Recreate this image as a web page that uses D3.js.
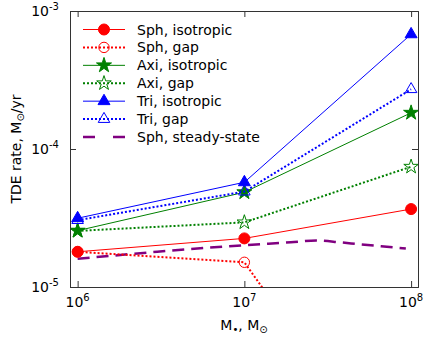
<!DOCTYPE html>
<html>
<head>
<meta charset="utf-8">
<script src="https://d3js.org/d3.v7.min.js"></script>
<style>
    body { margin: 0; background: #fff; }
    text { font-family: "DejaVu Sans", sans-serif; fill: #000; }
</style>
</head>
<body>
<script>
    // black hole masses (x) and TDE rates (y)
    var masses = [1e6, 1e7, 1e8];
    var sphIso = [1.80e-5, 2.25e-5, 3.67e-5];
    var sphGap = [1.80e-5, 1.51e-5, 3.0e-7];
    var axiIso = [2.56e-5, 4.86e-5, 1.83e-4];
    var axiGap = [2.55e-5, 2.94e-5, 7.44e-5];
    var triIso = [3.15e-5, 5.74e-5, 6.78e-4];
    var triGap = [3.05e-5, 4.91e-5, 2.71e-4];

    var steadyMass = [1e6, 3e6, 1e7, 1.9e7, 2.7e7, 3.7e7, 4.9e7, 6.4e7, 9.3e7];
    var steadyRate = [1.60e-5, 1.80e-5, 2.01e-5, 2.11e-5, 2.17e-5, 2.11e-5, 2.04e-5, 1.98e-5, 1.90e-5];

    var xMajor = [1e6, 1e7, 1e8];
    var xMajorLabels = ["6", "7", "8"];
    var yMajor = [1e-5, 1e-4, 1e-3];
    var yMajorLabels = ["-5", "-4", "-3"];

    var legendLabels = ["Sph, isotropic", "Sph, gap", "Axi, isotropic", "Axi, gap",
                        "Tri, isotropic", "Tri, gap", "Sph, steady-state"];

    var width = 436, height = 346;
    var plotL = 70, plotR = 418, plotT = 11, plotB = 287;

    var svg = d3.select("body").append("svg")
        .attr("width", width)
        .attr("height", height);

    var x = d3.scaleLog().domain([9e5, 1.1e8]).range([plotL, plotR]);
    var y = d3.scaleLog().domain([1e-5, 1e-3]).range([plotB, plotT]);

    var series = [
        {vals: sphIso, color: "#ff0000", dotted: false, sym: d3.symbolCircle, size: 95, filled: true},
        {vals: sphGap, color: "#ff0000", dotted: true, sym: d3.symbolCircle, size: 85, filled: false},
        {vals: axiIso, color: "#008000", dotted: false, sym: d3.symbolStar, size: 70, filled: true},
        {vals: axiGap, color: "#008000", dotted: true, sym: d3.symbolStar, size: 66, filled: false},
        {vals: triIso, color: "#0000ff", dotted: false, sym: d3.symbolTriangle, size: 62, filled: true},
        {vals: triGap, color: "#0000ff", dotted: true, sym: d3.symbolTriangle, size: 58, filled: false}
    ];

    svg.append("clipPath").attr("id", "plotclip")
        .append("rect")
        .attr("x", plotL).attr("y", plotT)
        .attr("width", plotR - plotL).attr("height", plotB - plotT);

    var plot = svg.append("g").attr("clip-path", "url(#plotclip)");

    var line = d3.line()
        .x(function (d) { return x(d[0]); })
        .y(function (d) { return y(d[1]); });

    // steady-state curve
    plot.append("path")
        .datum(d3.zip(steadyMass, steadyRate))
        .attr("fill", "none")
        .attr("stroke", "#800080")
        .attr("stroke-width", 2.5)
        .attr("stroke-dasharray", "12,7")
        .attr("d", line.curve(d3.curveMonotoneX));
    line.curve(d3.curveLinear);

    series.forEach(function (s) {
        var pts = d3.zip(masses, s.vals);
        plot.append("path")
            .datum(pts)
            .attr("fill", "none")
            .attr("stroke", s.color)
            .attr("stroke-width", s.dotted ? 2 : 1)
            .attr("stroke-dasharray", s.dotted ? "2,2" : null)
            .attr("d", line);
        plot.selectAll(null)
            .data(pts)
            .enter()
            .append("path")
            .attr("transform", function (d) { return "translate(" + x(d[0]) + "," + y(d[1]) + ")"; })
            .attr("d", d3.symbol(s.sym, s.size))
            .attr("fill", s.filled ? s.color : "none")
            .attr("stroke", s.color)
            .attr("stroke-width", 1);
    });

    // axes: inward ticks on all four sides
    function minorTicks(scale) {
        var out = [];
        scale.ticks().forEach(function (t) { if (xMajor.indexOf(t) < 0 && yMajor.indexOf(t) < 0) out.push(t); });
        return out;
    }
    var xMinor = minorTicks(x).filter(function (t) { return t > 9.5e5 && t < 1e8; });
    var yMinor = minorTicks(y);

    function addAxis(axisFn, scale, major, minor, tx, ty) {
        var g = svg.append("g").attr("transform", "translate(" + tx + "," + ty + ")");
        g.call(axisFn(scale).tickValues(minor).tickSize(-3).tickFormat(""));
        g.call(axisFn(scale).tickValues(major).tickSize(-6).tickFormat(""));
        g.selectAll("path.domain").attr("stroke", "#333");
        g.selectAll("line").attr("stroke", "#333");
        return g;
    }
    addAxis(d3.axisBottom, x, xMajor, xMinor, 0, plotB);
    addAxis(d3.axisTop, x, xMajor, xMinor, 0, plotT);
    addAxis(d3.axisLeft, y, yMajor, yMinor, plotL, 0);
    addAxis(d3.axisRight, y, yMajor, yMinor, plotR, 0);

    // tick labels as 10 with superscripts
    xMajor.forEach(function (v, i) {
        var t = svg.append("text")
            .attr("x", x(v)).attr("y", 307)
            .attr("text-anchor", "middle")
            .attr("font-size", 14);
        t.append("tspan").text("10");
        t.append("tspan").attr("dy", -6).attr("font-size", 10).text(xMajorLabels[i]);
    });
    yMajor.forEach(function (v, i) {
        var t = svg.append("text")
            .attr("x", 59).attr("y", y(v) + 5)
            .attr("text-anchor", "end")
            .attr("font-size", 14);
        t.append("tspan").text("10");
        t.append("tspan").attr("dy", -6).attr("font-size", 10).text(yMajorLabels[i]);
    });

    // axis titles
    var xl = svg.append("text")
        .attr("x", 244).attr("y", 330)
        .attr("text-anchor", "middle")
        .attr("font-size", 14);
    xl.append("tspan").text("M");
    xl.append("tspan").attr("dy", 3).attr("font-size", 10).text("\u2022");
    xl.append("tspan").attr("dy", -3).text(", M");
    xl.append("tspan").attr("dy", 3).attr("font-size", 10).text("\u2299");

    var yl = svg.append("text")
        .attr("transform", "translate(21,149) rotate(-90)")
        .attr("text-anchor", "middle")
        .attr("font-size", 14);
    yl.append("tspan").text("TDE rate, M");
    yl.append("tspan").attr("dy", 3).attr("font-size", 10).text("\u2299");
    yl.append("tspan").attr("dy", -3).text("/yr");

    // legend
    var legend = svg.append("g");
    var legendY = d3.scaleLinear().domain([0, 6]).range([29.5, 137]);
    legendLabels.forEach(function (label, i) {
        var ly = legendY(i);
        if (i < series.length) {
            var s = series[i];
            legend.append("line")
                .attr("x1", 83).attr("x2", 125).attr("y1", ly).attr("y2", ly)
                .attr("stroke", s.color)
                .attr("stroke-width", s.dotted ? 2 : 1)
                .attr("stroke-dasharray", s.dotted ? "2,2" : null);
            legend.append("path")
                .attr("transform", "translate(104," + ly + ")")
                .attr("d", d3.symbol(s.sym, s.size))
                .attr("fill", s.filled ? s.color : "none")
                .attr("stroke", s.color);
        } else {
            legend.append("line")
                .attr("x1", 83).attr("x2", 125).attr("y1", ly).attr("y2", ly)
                .attr("stroke", "#800080")
                .attr("stroke-width", 2.5)
                .attr("stroke-dasharray", "12,18");
        }
        legend.append("text")
            .attr("x", 137).attr("y", ly + 5)
            .attr("font-size", 14)
            .text(label);
    });
</script>
</body>
</html>
